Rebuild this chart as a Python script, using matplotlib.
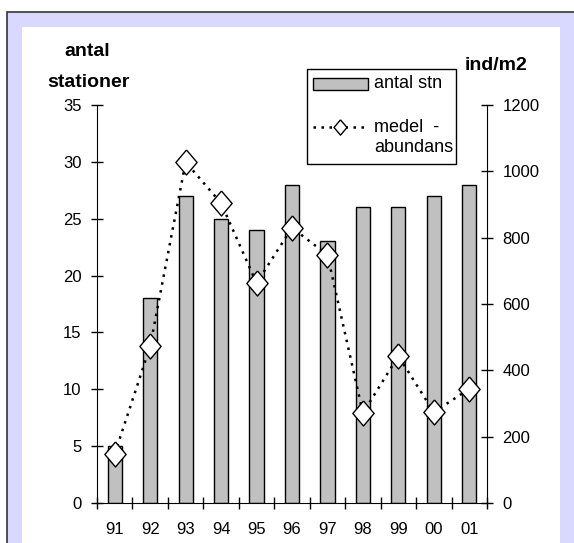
import numpy as np
import matplotlib
matplotlib.use("Agg")
import matplotlib.pyplot as plt
from matplotlib.patches import Rectangle
from matplotlib.lines import Line2D

# data
years = ["91", "92", "93", "94", "95", "96", "97", "98", "99", "00", "01"]
stations = [5, 18, 27, 25, 24, 28, 23, 26, 26, 27, 28]
abundance = [148, 473, 1028, 904, 663, 830, 748, 271, 443, 274, 344]

plt.rcParams['font.family'] = ['Liberation Sans', 'DejaVu Sans']

W, H = 574, 543
LAVENDER = '#d9d9ff'
BAR_GREY = '#c0c0c0'
DIAMOND = [(0, 1), (0.85, 0), (0, -1), (-0.85, 0), (0, 1)]


def fx(x):
    return x / W


def fy(y):
    return 1 - y / H


fig = plt.figure(figsize=(W / 100, H / 100), dpi=100)

# frame: lavender border with white inner panel
fig.add_artist(Rectangle((fx(7), -0.1), 2, 1 - 12 / H + 0.1, transform=fig.transFigure,
                         facecolor=LAVENDER, edgecolor='#333333', linewidth=1.2, zorder=-10))
fig.add_artist(Rectangle((fx(22), -0.1), (560 - 22) / W, 1 - 27 / H + 0.1, transform=fig.transFigure,
                         facecolor='white', edgecolor='none', zorder=-9))

ax = fig.add_axes([97 / W, 40 / H, 390 / W, 398 / H])
ax.patch.set_visible(False)
x = np.arange(len(years))
ax.bar(x, stations, width=0.4, color=BAR_GREY, edgecolor='black', linewidth=1, zorder=2)

ax.set_xlim(-0.5, len(years) - 0.5)
ax.set_ylim(0, 35)
ax.set_yticks(range(0, 36, 5))
ax.set_xticks(x)
ax.set_xticklabels(years)
ax.set_xticks(np.arange(-0.5, len(years), 1), minor=True)
ax.tick_params(axis='x', which='major', length=0, pad=14, labelsize=12)
ax.tick_params(axis='x', which='minor', direction='inout', length=9, width=1)
ax.tick_params(axis='y', direction='inout', length=8, width=1, pad=7, labelsize=12)
ax.spines['top'].set_visible(False)
ax.spines['right'].set_visible(False)

ax2 = ax.twinx()
ax2.plot(x, abundance, linestyle=(0, (1, 2.2)), color='black', linewidth=1.8,
         marker=DIAMOND, markersize=18, markerfacecolor='white',
         markeredgecolor='black', markeredgewidth=1, zorder=3)
ax2.set_ylim(0, 1200)
ax2.set_yticks(range(0, 1201, 200))
ax2.tick_params(axis='y', direction='inout', length=8, width=1, pad=7, labelsize=12)
for side in ['top', 'left', 'bottom']:
    ax2.spines[side].set_visible(False)

# axis titles
fig.text(fx(87), fy(52), "antal", ha='center', va='center', fontsize=14, fontweight='bold')
fig.text(fx(88), fy(83), "stationer", ha='center', va='center', fontsize=14, fontweight='bold')
fig.text(fx(496), fy(65), "ind/m2", ha='center', va='center', fontsize=14, fontweight='bold')

# legend drawn by hand
fig.add_artist(Rectangle((fx(307), fy(164)), (456 - 307) / W, (164 - 69) / H, transform=fig.transFigure,
                         facecolor='white', edgecolor='black', linewidth=1, zorder=5))
fig.add_artist(Rectangle((fx(313), fy(90)), 55 / W, 12 / H, transform=fig.transFigure,
                         facecolor=BAR_GREY, edgecolor='black', linewidth=1, zorder=6))
fig.add_artist(Line2D([fx(313), fx(340), fx(368)], [fy(127)] * 3, transform=fig.transFigure,
                      linestyle=(0, (1, 2.2)), color='black', linewidth=1.8,
                      marker=DIAMOND, markevery=[1], markersize=11, markerfacecolor='white',
                      markeredgecolor='black', markeredgewidth=1, zorder=6))
fig.text(fx(374), fy(84), "antal stn", ha='left', va='center', fontsize=13, zorder=7)
fig.text(fx(374), fy(127), "medel  -", ha='left', va='center', fontsize=13, zorder=7)
fig.text(fx(374), fy(147), "abundans", ha='left', va='center', fontsize=13, zorder=7)

fig.savefig("out.png", dpi=100)
